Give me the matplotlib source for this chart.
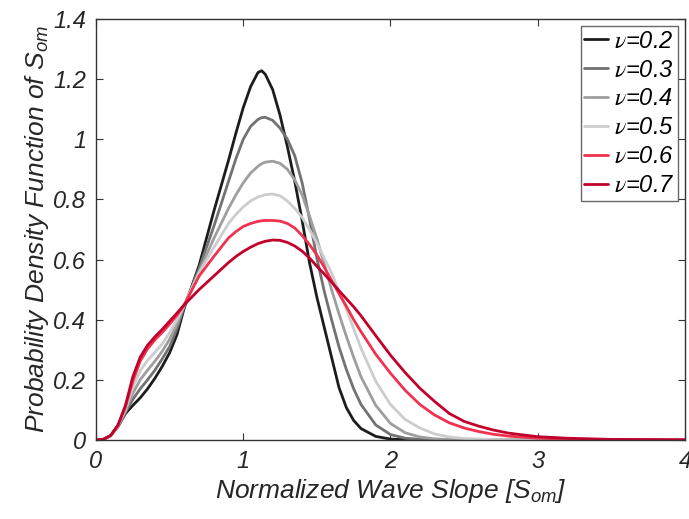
import numpy as np
import matplotlib
matplotlib.use('Agg')
import matplotlib.pyplot as plt

plt.rcParams['font.family'] = ['Liberation Sans', 'DejaVu Sans']
plt.rcParams['mathtext.fontset'] = 'custom'
plt.rcParams['mathtext.it'] = 'Liberation Sans:italic'
plt.rcParams['mathtext.rm'] = 'Liberation Sans'
plt.rcParams['mathtext.sf'] = 'STIXGeneral:italic'

# slope values (normalized wave slope)
s = [0, .05, .1, .15, .2, .25, .3, .35, .4, .45, .5, .55, .6, .7, .8, .9, .95,
     1.0, 1.05, 1.1, 1.125, 1.15, 1.2, 1.25, 1.3, 1.35, 1.4, 1.45, 1.5, 1.55, 1.6,
     1.65, 1.7, 1.75, 1.8, 1.9, 2.0, 2.1, 2.2, 2.3, 2.4, 2.5, 2.6, 2.7, 2.8,
     3.0, 3.2, 3.5, 4.0]

pdf_02 = [0, .002, .015, .045, .088, .115, .14, .17, .205, .245, .29, .35, .44, .58, .76, .93, 1.02,
          1.105, 1.175, 1.222, 1.228, 1.216, 1.165, 1.08, .975, .86, .73, .59, .475, .375, .275,
          .175, .108, .065, .038, .012, .003, .001, 0, 0, 0, 0, 0, 0, 0,
          0, 0, 0, 0]
pdf_03 = [0, .002, .015, .045, .092, .135, .17, .2, .232, .27, .31, .37, .445, .57, .71, .86, .935,
          1.0, 1.043, 1.066, 1.072, 1.073, 1.063, 1.037, 1.0, .945, .855, .735, .605, .495, .40,
          .31, .235, .17, .118, .05, .018, .006, .002, .001, 0, 0, 0, 0, 0,
          0, 0, 0, 0]
pdf_04 = [0, .002, .015, .047, .097, .155, .2, .232, .262, .295, .335, .385, .45, .56, .67, .77, .815,
          .855, .888, .91, .919, .924, .927, .92, .90, .865, .815, .745, .67, .585, .50,
          .42, .345, .275, .21, .115, .055, .024, .01, .004, .0015, .0005, 0, 0, 0,
          0, 0, 0, 0]
pdf_05 = [0, .002, .015, .048, .102, .175, .23, .265, .292, .32, .357, .40, .45, .555, .64, .72, .75,
          .775, .795, .808, .812, .816, .818, .812, .795, .77, .74, .70, .655, .605, .555,
          .495, .435, .37, .305, .195, .118, .068, .04, .02, .01, .005, .003, .0015, .001,
          0, 0, 0, 0]
pdf_06 = [0, .002, .015, .05, .11, .195, .262, .303, .333, .358, .385, .415, .45, .545, .61, .672, .693,
          .71, .72, .727, .729, .73, .73, .728, .72, .705, .68, .65, .615, .575, .53,
          .487, .445, .40, .36, .285, .222, .165, .118, .083, .057, .04, .028, .019, .013,
          .006, .003, .001, 0]
pdf_07 = [0, .002, .015, .05, .115, .21, .275, .315, .343, .368, .395, .422, .45, .50, .545, .59, .61,
          .627, .641, .653, .657, .661, .665, .664, .657, .645, .628, .605, .578, .552, .525,
          .497, .47, .443, .413, .347, .282, .224, .172, .128, .088, .062, .046, .033, .023,
          .011, .006, .002, .0005]

labels = [r'$\mathsf{\nu}$=0.2', r'$\mathsf{\nu}$=0.3', r'$\mathsf{\nu}$=0.4',
          r'$\mathsf{\nu}$=0.5', r'$\mathsf{\nu}$=0.6', r'$\mathsf{\nu}$=0.7']
colors = ['#1c1c1c', '#727272', '#9e9e9e', '#cdcdcd', '#f0324f', '#c2002c']

fig = plt.figure(figsize=(6.89, 5.19), dpi=100)
ax = fig.add_axes([0.1393, 0.1522, 0.8549, 0.8112])

for y, c, lab in zip([pdf_02, pdf_03, pdf_04, pdf_05, pdf_06, pdf_07], colors, labels):
    ax.plot(s, y, color=c, lw=2.0, label=lab, solid_capstyle='round', solid_joinstyle='round')

ax.set_xlim(0, 4)
ax.set_ylim(0, 1.4)
ax.set_xticks([0, 1, 2, 3, 4])
ax.set_xticklabels(['0', '1', '2', '3', '4'])
ax.set_yticks([0, 0.2, 0.4, 0.6, 0.8, 1.0, 1.2, 1.4])
ax.set_yticklabels(['0', '0.2', '0.4', '0.6', '0.8', '1', '1.2', '1.4'])
ax.tick_params(direction='in', length=5, width=0.8, top=True, right=True,
               labelsize=17, colors='#333333', labelcolor='#262626', pad=7)
for lab in ax.get_xticklabels() + ax.get_yticklabels():
    lab.set_fontstyle('italic')
for sp in ax.spines.values():
    sp.set_color('#333333')
    sp.set_linewidth(1.0)

ax.set_xlabel('Normalized Wave Slope [$S_{om}$]', fontsize=19, fontstyle='italic',
              color='#262626', labelpad=3)
ax.set_ylabel('Probability Density Function of $S_{om}$', fontsize=19, fontstyle='italic',
              color='#262626', labelpad=2)

leg = ax.legend(loc='upper right', frameon=True, fancybox=False,
                handlelength=1.0, handletextpad=0.25, borderpad=0.15, labelspacing=0.25,
                borderaxespad=0.3, prop={'style': 'italic', 'size': 17})
leg.get_frame().set_edgecolor('#444444')
leg.get_frame().set_linewidth(1.0)

plt.savefig('out.png', dpi=100)
